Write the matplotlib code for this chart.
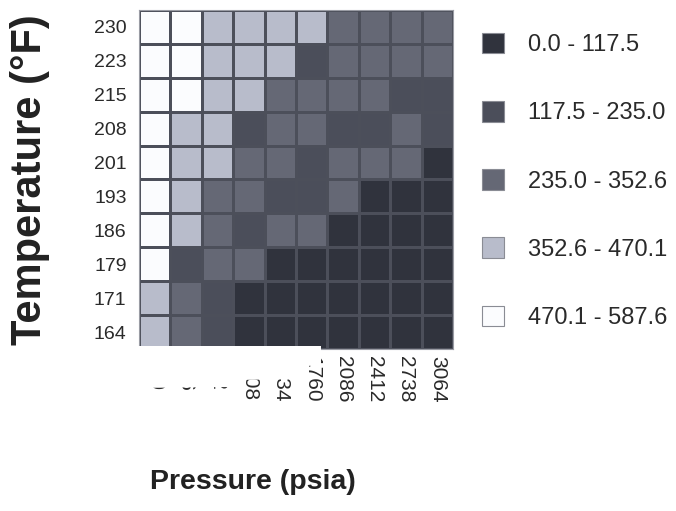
import numpy as np
import matplotlib
matplotlib.use("Agg")
import matplotlib.pyplot as plt
from matplotlib.colors import ListedColormap, BoundaryNorm
from matplotlib.patches import Patch, Polygon

plt.rcParams['font.family'] = ['Liberation Sans', 'DejaVu Sans']

# data (one value per cell, rows from 230 F down to 164 F)
pressures = [130, 456, 782, 1108, 1434, 1760, 2086, 2412, 2738, 3064]
temperatures = [230, 223, 215, 208, 201, 193, 186, 179, 171, 164]
breaks = [0.0, 117.5, 235.0, 352.6, 470.1, 587.6]
values = np.array([
    [529, 529, 411, 411, 411, 411, 294, 294, 294, 294],
    [529, 529, 411, 411, 411, 176, 294, 294, 294, 294],
    [529, 529, 411, 411, 294, 294, 294, 294, 176, 176],
    [529, 411, 411, 176, 294, 294, 176, 176, 294, 176],
    [529, 411, 411, 294, 294, 176, 294, 294, 294, 58],
    [529, 411, 294, 294, 176, 176, 294, 58, 58, 58],
    [529, 411, 294, 176, 294, 294, 58, 58, 58, 58],
    [529, 176, 294, 294, 58, 58, 58, 58, 58, 58],
    [411, 294, 176, 58, 58, 58, 58, 58, 58, 58],
    [411, 294, 176, 58, 58, 58, 58, 58, 58, 58],
])

class_colors = ['#30333d', '#4b4e5a', '#656875', '#b8bccb', '#fbfcfe']
cmap = ListedColormap(class_colors)
norm = BoundaryNorm(breaks, cmap.N)

W, H = 676, 511


def fx(x):
    return x / W


def fy(y):
    return 1 - y / H


fig = plt.figure(figsize=(W / 100, H / 100), dpi=100)
ax = fig.add_axes([fx(139), fy(349), fx(453) - fx(139), fy(10) - fy(349)])

ax.pcolormesh(np.arange(len(pressures) + 1), np.arange(len(temperatures) + 1),
              values, cmap=cmap, norm=norm, edgecolors='#4c4f5a', linewidth=0.9)
ax.set_xlim(0, len(pressures))
ax.set_ylim(len(temperatures), 0)
ax.set_xticks(np.arange(len(pressures)) + 0.5)
ax.set_xticklabels([str(p) for p in pressures], rotation=270, fontsize=15,
                   color='#2a2a2a')
ax.set_yticks(np.arange(len(temperatures)) + 0.5)
ax.set_yticklabels([str(t) for t in temperatures], fontsize=14, color='#2a2a2a')
ax.tick_params(axis='x', length=0, pad=5)
ax.tick_params(axis='y', length=0, pad=9)
for s in ax.spines.values():
    s.set_color('#9a9ca4')
    s.set_linewidth(0.8)

fig.text(fx(30), fy(180), 'Temperature (°F)', rotation=90, ha='center',
         va='center', fontsize=30, fontweight='bold', color='#222222')
fig.text(fx(253), fy(482), 'Pressure (psia)', ha='center', va='center',
         fontsize=20.5, fontweight='bold', color='#222222')

handles = []
for i, c in enumerate(class_colors):
    handles.append(Patch(facecolor=c, edgecolor='#8a8c94', linewidth=0.8,
                         label=f'{breaks[i]:.1f} - {breaks[i + 1]:.1f}'))
fig.legend(handles=handles, loc='upper left', bbox_to_anchor=(fx(482), fy(33)),
           frameon=False, fontsize=17, handlelength=0.95, handleheight=0.95,
           handletextpad=1.0, labelspacing=1.9, borderpad=0, borderaxespad=0,
           labelcolor='#2a2a2a')

# the reference scan has a white patch hiding part of the first labels
cover = [(131, 346), (321, 346), (321, 364), (302, 367), (300, 379),
         (236, 380), (234, 387), (131, 388)]
fig.patches.append(Polygon([(fx(x), fy(y)) for x, y in cover],
                           transform=fig.transFigure, facecolor='white',
                           edgecolor='none', zorder=10))

fig.savefig('out.png', dpi=100, facecolor='white')
